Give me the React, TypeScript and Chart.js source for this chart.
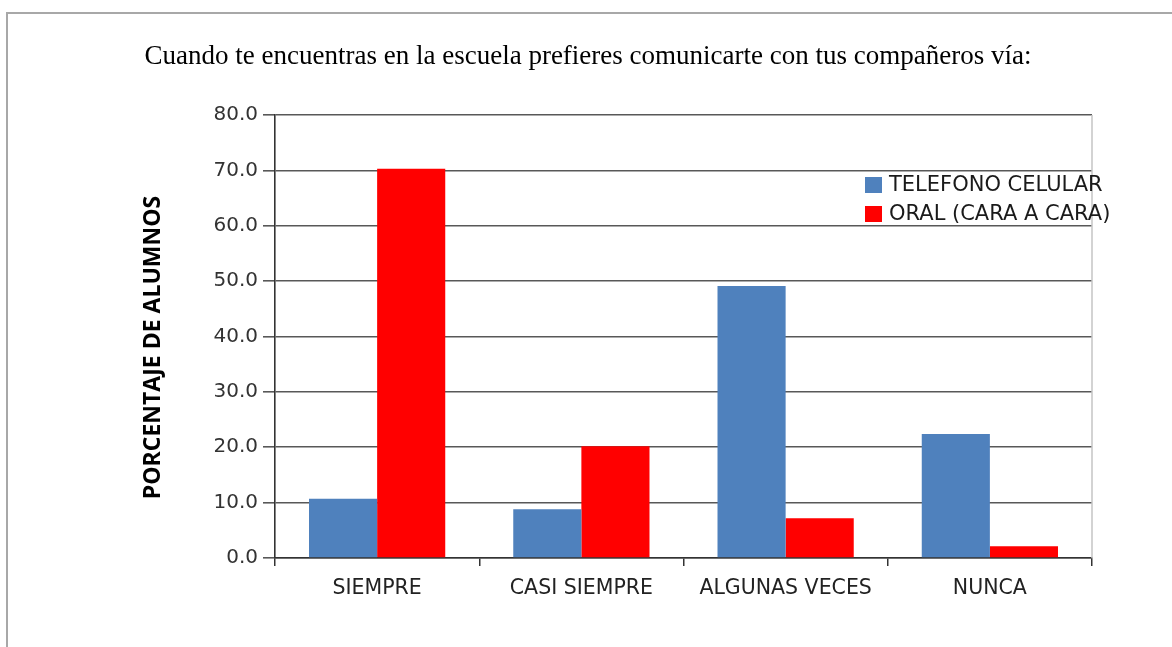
import React, { useEffect, useRef } from 'react';
import { Chart, registerables } from 'chart.js';

Chart.register(...registerables);

const chartTitle = 'Cuando te encuentras en la escuela prefieres comunicarte con tus compañeros vía:';
const yAxisTitle = 'PORCENTAJE DE ALUMNOS';
const categories = ['SIEMPRE', 'CASI SIEMPRE', 'ALGUNAS VECES', 'NUNCA'];
const seriesNames = ['TELEFONO CELULAR', 'ORAL (CARA A CARA)'];
const telefonoValues = [10.7, 8.8, 49.1, 22.4];
const oralValues = [70.3, 20.2, 7.2, 2.1];
const yMin = 0;
const yMax = 80;
const yStep = 10;
const seriesColors = ['#4f81bd', '#ff0000'];

const chartTexts = {
  id: 'chartTexts',
  afterDraw(chart: any) {
    const { ctx, chartArea } = chart;
    ctx.save();
    // main title
    ctx.fillStyle = '#000';
    ctx.font = '27px "Liberation Serif", "Times New Roman", serif';
    ctx.textAlign = 'center';
    ctx.textBaseline = 'middle';
    ctx.fillText(chartTitle, 588, 57);
    // y axis title
    ctx.save();
    ctx.translate(153, (chartArea.top + chartArea.bottom) / 2 + 11);
    ctx.rotate(-Math.PI / 2);
    ctx.font = 'bold 23px "Open Sans"';
    ctx.fillText(yAxisTitle, 0, 0);
    ctx.restore();
    // legend inside plot area
    const x = chartArea.left + 590;
    let y = chartArea.top + 62;
    chart.data.datasets.forEach((ds: any) => {
      ctx.fillStyle = ds.backgroundColor;
      ctx.fillRect(x, y, 17, 16);
      ctx.fillStyle = '#1a1a1a';
      ctx.font = '21px "DejaVu Sans"';
      ctx.textBaseline = 'middle';
      ctx.textAlign = 'left';
      ctx.fillText(ds.label, x + 24, y + 8.5);
      y += 29;
    });
    ctx.restore();
  },
};

const plotRightBorder = {
  id: 'plotRightBorder',
  beforeDatasetsDraw(chart: any) {
    const { ctx, chartArea } = chart;
    ctx.save();
    ctx.strokeStyle = '#c4c4c4';
    ctx.lineWidth = 1.5;
    ctx.beginPath();
    ctx.moveTo(chartArea.right, chartArea.top);
    ctx.lineTo(chartArea.right, chartArea.bottom);
    ctx.stroke();
    ctx.restore();
  },
};

export default function App() {
  const canvasRef = useRef<HTMLCanvasElement | null>(null);

  useEffect(() => {
    document.body.style.margin = '0';
    const canvas = canvasRef.current;
    if (!canvas) return;
    const chart = new Chart(canvas, {
      type: 'bar',
      data: {
        labels: categories,
        datasets: [
          {
            label: seriesNames[0],
            data: telefonoValues,
            backgroundColor: seriesColors[0],
            borderWidth: 0,
            categoryPercentage: 0.667,
            barPercentage: 1.0,
          },
          {
            label: seriesNames[1],
            data: oralValues,
            backgroundColor: seriesColors[1],
            borderWidth: 0,
            categoryPercentage: 0.667,
            barPercentage: 1.0,
          },
        ],
      },
      options: {
        responsive: false,
        animation: false,
        devicePixelRatio: 1,
        layout: { padding: { left: 130, right: 80, top: 115, bottom: 0 } },
        plugins: {
          legend: { display: false },
          tooltip: { enabled: false },
          title: { display: false },
        },
        scales: {
          x: {
            grid: { display: true, drawOnChartArea: false, drawTicks: true, tickLength: 8, color: '#333', lineWidth: 1.5, offset: true },
            border: { display: true, color: '#333', width: 1.5 },
            ticks: {
              color: '#222',
              font: { family: '"DejaVu Sans"', size: 20.5, lineHeight: 1.2 },
              padding: 10,
              maxRotation: 0,
              autoSkip: false,
            },
            afterFit: (s: any) => {
              s.height = 89;
            },
          },
          y: {
            min: yMin,
            max: yMax,
            ticks: {
              stepSize: yStep,
              callback: (v: any) => Number(v).toFixed(1),
              padding: 5,
              color: '#333',
              font: { family: '"DejaVu Sans"', size: 20 },
            },
            grid: { color: '#585858', lineWidth: 1.6, tickLength: 12, drawTicks: true },
            border: { display: true, color: '#333', width: 1.6 },
            afterFit: (s: any) => {
              s.width = 145;
            },
          },
        },
      },
      plugins: [plotRightBorder, chartTexts],
    });
    return () => chart.destroy();
  }, []);

  return (
    <div style={{ position: 'relative', width: 1172, height: 647, background: '#fff' }}>
      <div
        style={{
          position: 'absolute',
          top: 12,
          left: 6,
          right: 0,
          bottom: 0,
          borderTop: '2px solid #a8a8a8',
          borderLeft: '2px solid #a8a8a8',
        }}
      />
      <canvas ref={canvasRef} width={1172} height={647} style={{ position: 'absolute', left: 0, top: 0 }} />
    </div>
  );
}
